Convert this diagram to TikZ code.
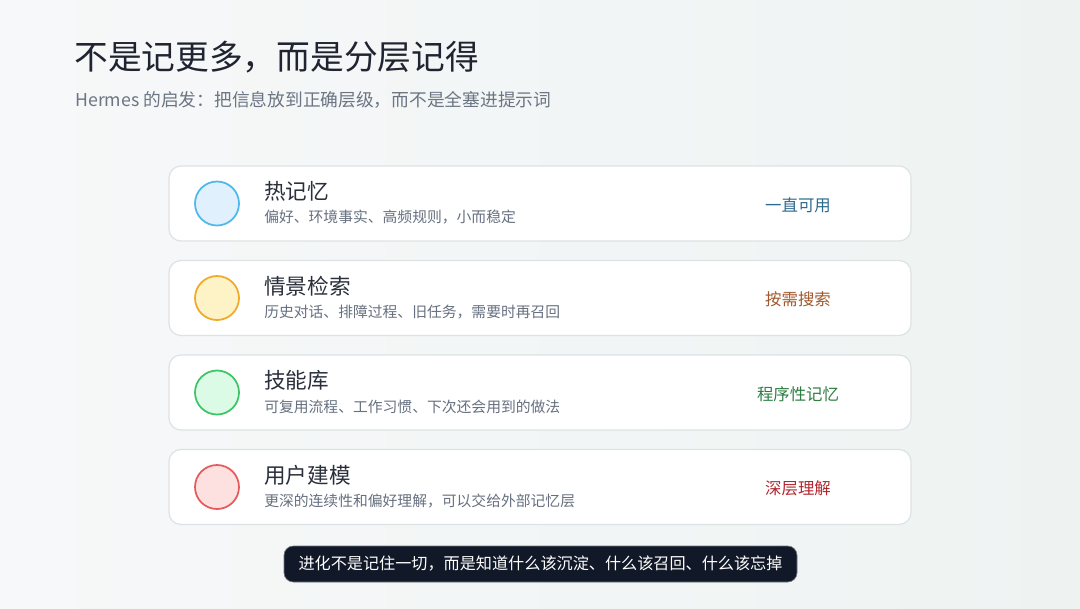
\documentclass[tikz,border=0pt]{standalone}
\usepackage{fontspec}
\setmainfont{Noto Sans CJK SC}
\usetikzlibrary{positioning}
\definecolor{bgL}{HTML}{F7F8F9}
\definecolor{bgR}{HTML}{EEF3F2}
\definecolor{titlec}{HTML}{1F2430}
\definecolor{subc}{HTML}{6B7583}
\definecolor{cardline}{HTML}{DCE3E5}
\definecolor{desc}{HTML}{667080}
\definecolor{cardtitle}{HTML}{2A2F3B}
\definecolor{banner}{HTML}{111827}
\definecolor{cAf}{HTML}{E1F0FD}\definecolor{cAs}{HTML}{4DB8EA}\definecolor{cAt}{HTML}{2D6A8F}
\definecolor{cBf}{HTML}{FEF2C7}\definecolor{cBs}{HTML}{F0A92A}\definecolor{cBt}{HTML}{A1572B}
\definecolor{cCf}{HTML}{DCFBE6}\definecolor{cCs}{HTML}{3CC465}\definecolor{cCt}{HTML}{2E7D43}
\definecolor{cDf}{HTML}{FDE0E0}\definecolor{cDs}{HTML}{E65A5A}\definecolor{cDt}{HTML}{B3262E}
\tikzset{
  card/.style={draw=cardline, line width=0.9pt, fill=white, rounded corners=9pt},
  dot/.style={circle, minimum size=44*0.75pt, line width=1.3pt, inner sep=0pt},
  ctitle/.style={anchor=west, inner sep=0pt, text=cardtitle, font=\fontsize{16.2}{19}\selectfont},
  cdesc/.style={anchor=west, inner sep=0pt, text=desc, font=\fontsize{11.1}{13}\selectfont},
  clabel/.style={anchor=center, inner sep=0pt, font=\fontsize{12.3}{14}\selectfont},
}
\begin{document}
\begin{tikzpicture}[x=0.75pt,y=-0.75pt]
\useasboundingbox (0,0) rectangle (1080,608);
\shade[left color=bgL, right color=bgR] (0,0) rectangle (1080,608);
\node[anchor=west, inner sep=0pt, text=titlec, font=\fontsize{25.3}{29}\selectfont] (title) at (74,57) {不是记更多，而是分层记得};
\node[anchor=west, inner sep=0pt, text=subc, font=\fontsize{13.3}{15}\selectfont] (subtitle) at (75,100) {Hermes 的启发：把信息放到正确层级，而不是全塞进提示词};
% cards
\foreach \i/\y/\f/\s/\tc/\ti/\de/\la in {
 1/203.5/cAf/cAs/cAt/热记忆/偏好、环境事实、高频规则，小而稳定/一直可用,
 2/298/cBf/cBs/cBt/情景检索/历史对话、排障过程、旧任务，需要时再召回/按需搜索,
 3/392.5/cCf/cCs/cCt/技能库/可复用流程、工作习惯、下次还会用到的做法/程序性记忆,
 4/487/cDf/cDs/cDt/用户建模/更深的连续性和偏好理解，可以交给外部记忆层/深层理解}{
  \draw[card] (169,\y-37.5) rectangle (911,\y+37.5);
  \node[dot, draw=\s, fill=\f] (dot\i) at (217,\y) {};
  \node[ctitle] (t\i) at (264,\y-12) {\ti};
  \node[cdesc] (d\i) at (264,\y+14) {\de};
  \node[clabel, text=\tc] (l\i) at (798,\y+1.5) {\la};
}
\draw[fill=banner, draw=banner!60!white, line width=0.5pt, rounded corners=7pt] (284,546) rectangle (797,582);
\node[text=white, inner sep=0pt, font=\fontsize{12.1}{14}\selectfont] (banner) at (540.5,564) {进化不是记住一切，而是知道什么该沉淀、什么该召回、什么该忘掉};
\end{tikzpicture}
\end{document}
